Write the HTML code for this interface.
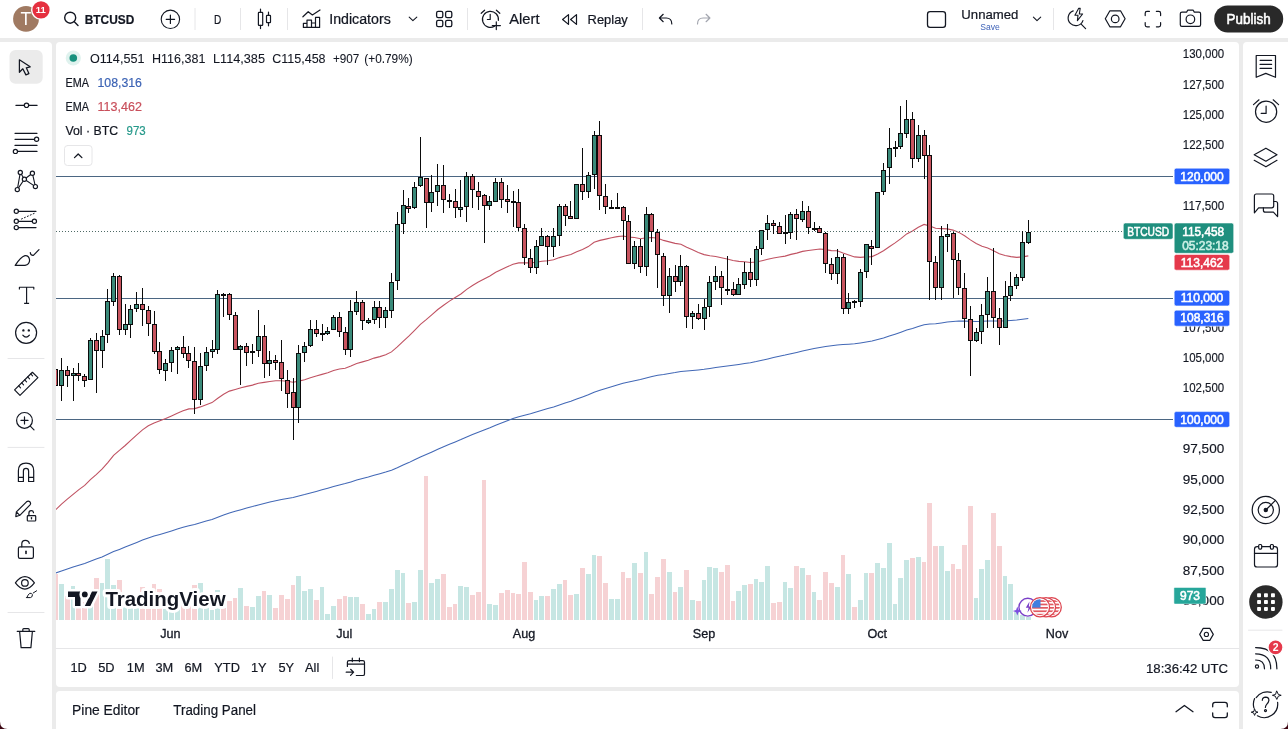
<!DOCTYPE html>
<html><head><meta charset="utf-8"><title>BTCUSD</title>
<style>
html,body{margin:0;padding:0;width:1288px;height:729px;overflow:hidden;background:#ebebeb;}
.abs{position:absolute;}
svg text{font-family:"Liberation Sans",Arial,sans-serif;}
</style></head>
<body>
<div class="abs" style="left:0;top:0;width:1288px;height:38px;background:#fff"></div>
<div class="abs" style="left:0;top:42px;width:52px;height:687px;background:#fff;border-top-right-radius:4px"></div>
<div class="abs" style="left:56px;top:42px;width:1183px;height:645px;background:#fff;border-radius:4px"></div>
<div class="abs" style="left:1243px;top:42px;width:45px;height:687px;background:#fff;border-top-left-radius:4px"></div>
<div class="abs" style="left:56px;top:691px;width:1183px;height:38px;background:#fff;border-radius:4px 4px 0 0"></div>
<svg class="abs" style="left:0;top:0" width="1288" height="729" viewBox="0 0 1288 729">
<defs><clipPath id="cp"><rect x="56" y="42" width="1117" height="578"/></clipPath></defs>
<g clip-path="url(#cp)" shape-rendering="crispEdges">
<rect x="56" y="176" width="1117" height="1" fill="#4b6682"/>
<rect x="56" y="298" width="1117" height="1" fill="#4b6682"/>
<rect x="56" y="419" width="1117" height="1" fill="#4b6682"/>
<rect x="53" y="574" width="5" height="46" fill="#f6d2d4"/>
<rect x="59" y="584" width="5" height="36" fill="#c6e6e3"/>
<rect x="65" y="596" width="5" height="24" fill="#f6d2d4"/>
<rect x="71" y="586" width="4" height="34" fill="#c6e6e3"/>
<rect x="76" y="600" width="5" height="20" fill="#f6d2d4"/>
<rect x="82" y="602" width="5" height="18" fill="#f6d2d4"/>
<rect x="88" y="598" width="5" height="22" fill="#c6e6e3"/>
<rect x="94" y="578" width="5" height="42" fill="#f6d2d4"/>
<rect x="100" y="583" width="4" height="37" fill="#c6e6e3"/>
<rect x="105" y="559" width="5" height="61" fill="#c6e6e3"/>
<rect x="111" y="585" width="5" height="35" fill="#c6e6e3"/>
<rect x="117" y="580" width="5" height="40" fill="#f6d2d4"/>
<rect x="123" y="600" width="4" height="20" fill="#c6e6e3"/>
<rect x="128" y="598" width="5" height="22" fill="#c6e6e3"/>
<rect x="134" y="600" width="5" height="20" fill="#c6e6e3"/>
<rect x="140" y="587" width="5" height="33" fill="#f6d2d4"/>
<rect x="146" y="600" width="5" height="20" fill="#f6d2d4"/>
<rect x="152" y="584" width="4" height="36" fill="#f6d2d4"/>
<rect x="157" y="589" width="5" height="31" fill="#f6d2d4"/>
<rect x="163" y="598" width="5" height="22" fill="#c6e6e3"/>
<rect x="169" y="600" width="5" height="20" fill="#c6e6e3"/>
<rect x="175" y="600" width="5" height="20" fill="#c6e6e3"/>
<rect x="181" y="598" width="4" height="22" fill="#f6d2d4"/>
<rect x="186" y="600" width="5" height="20" fill="#f6d2d4"/>
<rect x="192" y="585" width="5" height="35" fill="#f6d2d4"/>
<rect x="198" y="583" width="5" height="37" fill="#c6e6e3"/>
<rect x="204" y="598" width="5" height="22" fill="#c6e6e3"/>
<rect x="210" y="610" width="4" height="10" fill="#c6e6e3"/>
<rect x="215" y="590" width="5" height="30" fill="#c6e6e3"/>
<rect x="221" y="608" width="5" height="12" fill="#f6d2d4"/>
<rect x="227" y="601" width="5" height="19" fill="#f6d2d4"/>
<rect x="233" y="598" width="4" height="22" fill="#f6d2d4"/>
<rect x="238" y="588" width="5" height="32" fill="#c6e6e3"/>
<rect x="244" y="606" width="5" height="14" fill="#f6d2d4"/>
<rect x="250" y="607" width="5" height="13" fill="#c6e6e3"/>
<rect x="256" y="596" width="5" height="24" fill="#c6e6e3"/>
<rect x="262" y="591" width="4" height="29" fill="#f6d2d4"/>
<rect x="267" y="595" width="5" height="25" fill="#c6e6e3"/>
<rect x="273" y="608" width="5" height="12" fill="#f6d2d4"/>
<rect x="279" y="595" width="5" height="25" fill="#f6d2d4"/>
<rect x="285" y="599" width="5" height="21" fill="#f6d2d4"/>
<rect x="291" y="585" width="4" height="35" fill="#f6d2d4"/>
<rect x="296" y="576" width="5" height="44" fill="#c6e6e3"/>
<rect x="302" y="591" width="5" height="29" fill="#c6e6e3"/>
<rect x="308" y="589" width="5" height="31" fill="#c6e6e3"/>
<rect x="314" y="600" width="5" height="20" fill="#f6d2d4"/>
<rect x="320" y="587" width="4" height="33" fill="#c6e6e3"/>
<rect x="325" y="614" width="5" height="6" fill="#c6e6e3"/>
<rect x="331" y="606" width="5" height="14" fill="#c6e6e3"/>
<rect x="337" y="599" width="5" height="21" fill="#f6d2d4"/>
<rect x="343" y="596" width="4" height="24" fill="#f6d2d4"/>
<rect x="348" y="597" width="5" height="23" fill="#c6e6e3"/>
<rect x="354" y="597" width="5" height="23" fill="#c6e6e3"/>
<rect x="360" y="604" width="5" height="16" fill="#f6d2d4"/>
<rect x="366" y="614" width="5" height="6" fill="#c6e6e3"/>
<rect x="372" y="609" width="4" height="11" fill="#c6e6e3"/>
<rect x="377" y="602" width="5" height="18" fill="#f6d2d4"/>
<rect x="383" y="602" width="5" height="18" fill="#c6e6e3"/>
<rect x="389" y="589" width="5" height="31" fill="#c6e6e3"/>
<rect x="395" y="570" width="5" height="50" fill="#c6e6e3"/>
<rect x="401" y="573" width="4" height="47" fill="#c6e6e3"/>
<rect x="406" y="603" width="5" height="17" fill="#f6d2d4"/>
<rect x="412" y="602" width="5" height="18" fill="#c6e6e3"/>
<rect x="418" y="570" width="5" height="50" fill="#c6e6e3"/>
<rect x="424" y="476" width="4" height="144" fill="#f6d2d4"/>
<rect x="429" y="583" width="5" height="37" fill="#c6e6e3"/>
<rect x="435" y="579" width="5" height="41" fill="#c6e6e3"/>
<rect x="441" y="574" width="5" height="46" fill="#f6d2d4"/>
<rect x="447" y="607" width="5" height="13" fill="#f6d2d4"/>
<rect x="453" y="604" width="4" height="16" fill="#f6d2d4"/>
<rect x="458" y="586" width="5" height="34" fill="#c6e6e3"/>
<rect x="464" y="587" width="5" height="33" fill="#c6e6e3"/>
<rect x="470" y="595" width="5" height="25" fill="#f6d2d4"/>
<rect x="476" y="592" width="5" height="28" fill="#f6d2d4"/>
<rect x="482" y="480" width="4" height="140" fill="#f6d2d4"/>
<rect x="487" y="604" width="5" height="16" fill="#c6e6e3"/>
<rect x="493" y="605" width="5" height="15" fill="#c6e6e3"/>
<rect x="499" y="593" width="5" height="27" fill="#f6d2d4"/>
<rect x="505" y="590" width="5" height="30" fill="#f6d2d4"/>
<rect x="511" y="593" width="4" height="27" fill="#f6d2d4"/>
<rect x="516" y="594" width="5" height="26" fill="#f6d2d4"/>
<rect x="522" y="562" width="5" height="58" fill="#f6d2d4"/>
<rect x="528" y="592" width="5" height="28" fill="#f6d2d4"/>
<rect x="534" y="600" width="4" height="20" fill="#c6e6e3"/>
<rect x="539" y="596" width="5" height="24" fill="#c6e6e3"/>
<rect x="545" y="596" width="5" height="24" fill="#f6d2d4"/>
<rect x="551" y="589" width="5" height="31" fill="#c6e6e3"/>
<rect x="557" y="584" width="5" height="36" fill="#c6e6e3"/>
<rect x="563" y="580" width="4" height="40" fill="#f6d2d4"/>
<rect x="568" y="595" width="5" height="25" fill="#f6d2d4"/>
<rect x="574" y="594" width="5" height="26" fill="#c6e6e3"/>
<rect x="580" y="568" width="5" height="52" fill="#f6d2d4"/>
<rect x="586" y="574" width="5" height="46" fill="#c6e6e3"/>
<rect x="592" y="555" width="4" height="65" fill="#c6e6e3"/>
<rect x="597" y="556" width="5" height="64" fill="#f6d2d4"/>
<rect x="603" y="583" width="5" height="37" fill="#f6d2d4"/>
<rect x="609" y="599" width="5" height="21" fill="#c6e6e3"/>
<rect x="615" y="599" width="5" height="21" fill="#c6e6e3"/>
<rect x="621" y="572" width="4" height="48" fill="#f6d2d4"/>
<rect x="626" y="578" width="5" height="42" fill="#f6d2d4"/>
<rect x="632" y="563" width="5" height="57" fill="#c6e6e3"/>
<rect x="638" y="573" width="5" height="47" fill="#f6d2d4"/>
<rect x="644" y="552" width="4" height="68" fill="#c6e6e3"/>
<rect x="649" y="594" width="5" height="26" fill="#f6d2d4"/>
<rect x="655" y="577" width="5" height="43" fill="#f6d2d4"/>
<rect x="661" y="559" width="5" height="61" fill="#f6d2d4"/>
<rect x="667" y="572" width="5" height="48" fill="#c6e6e3"/>
<rect x="673" y="592" width="4" height="28" fill="#f6d2d4"/>
<rect x="678" y="587" width="5" height="33" fill="#c6e6e3"/>
<rect x="684" y="570" width="5" height="50" fill="#f6d2d4"/>
<rect x="690" y="600" width="5" height="20" fill="#c6e6e3"/>
<rect x="696" y="601" width="5" height="19" fill="#f6d2d4"/>
<rect x="702" y="580" width="4" height="40" fill="#c6e6e3"/>
<rect x="707" y="567" width="5" height="53" fill="#c6e6e3"/>
<rect x="713" y="568" width="5" height="52" fill="#c6e6e3"/>
<rect x="719" y="572" width="5" height="48" fill="#f6d2d4"/>
<rect x="725" y="565" width="5" height="55" fill="#f6d2d4"/>
<rect x="731" y="601" width="4" height="19" fill="#f6d2d4"/>
<rect x="736" y="591" width="5" height="29" fill="#c6e6e3"/>
<rect x="742" y="585" width="5" height="35" fill="#c6e6e3"/>
<rect x="748" y="584" width="5" height="36" fill="#f6d2d4"/>
<rect x="754" y="579" width="4" height="41" fill="#c6e6e3"/>
<rect x="759" y="582" width="5" height="38" fill="#c6e6e3"/>
<rect x="765" y="566" width="5" height="54" fill="#c6e6e3"/>
<rect x="771" y="603" width="5" height="17" fill="#f6d2d4"/>
<rect x="777" y="602" width="5" height="18" fill="#f6d2d4"/>
<rect x="783" y="582" width="4" height="38" fill="#c6e6e3"/>
<rect x="788" y="588" width="5" height="32" fill="#c6e6e3"/>
<rect x="794" y="566" width="5" height="54" fill="#f6d2d4"/>
<rect x="800" y="568" width="5" height="52" fill="#c6e6e3"/>
<rect x="806" y="575" width="5" height="45" fill="#f6d2d4"/>
<rect x="812" y="592" width="4" height="28" fill="#c6e6e3"/>
<rect x="817" y="600" width="5" height="20" fill="#f6d2d4"/>
<rect x="823" y="572" width="5" height="48" fill="#f6d2d4"/>
<rect x="829" y="583" width="5" height="37" fill="#f6d2d4"/>
<rect x="835" y="587" width="5" height="33" fill="#c6e6e3"/>
<rect x="841" y="555" width="4" height="65" fill="#f6d2d4"/>
<rect x="846" y="574" width="5" height="46" fill="#c6e6e3"/>
<rect x="852" y="607" width="5" height="13" fill="#f6d2d4"/>
<rect x="858" y="600" width="5" height="20" fill="#c6e6e3"/>
<rect x="864" y="573" width="4" height="47" fill="#c6e6e3"/>
<rect x="869" y="573" width="5" height="47" fill="#f6d2d4"/>
<rect x="875" y="563" width="5" height="57" fill="#c6e6e3"/>
<rect x="881" y="568" width="5" height="52" fill="#c6e6e3"/>
<rect x="887" y="543" width="5" height="77" fill="#c6e6e3"/>
<rect x="893" y="604" width="4" height="16" fill="#c6e6e3"/>
<rect x="898" y="578" width="5" height="42" fill="#c6e6e3"/>
<rect x="904" y="560" width="5" height="60" fill="#c6e6e3"/>
<rect x="910" y="558" width="5" height="62" fill="#f6d2d4"/>
<rect x="916" y="557" width="5" height="63" fill="#c6e6e3"/>
<rect x="922" y="562" width="4" height="58" fill="#f6d2d4"/>
<rect x="927" y="503" width="5" height="117" fill="#f6d2d4"/>
<rect x="933" y="546" width="5" height="74" fill="#f6d2d4"/>
<rect x="939" y="546" width="5" height="74" fill="#c6e6e3"/>
<rect x="945" y="571" width="5" height="49" fill="#c6e6e3"/>
<rect x="951" y="564" width="4" height="56" fill="#f6d2d4"/>
<rect x="956" y="569" width="5" height="51" fill="#f6d2d4"/>
<rect x="962" y="545" width="5" height="75" fill="#f6d2d4"/>
<rect x="968" y="506" width="5" height="114" fill="#f6d2d4"/>
<rect x="974" y="598" width="4" height="22" fill="#c6e6e3"/>
<rect x="979" y="569" width="5" height="51" fill="#c6e6e3"/>
<rect x="985" y="560" width="5" height="60" fill="#c6e6e3"/>
<rect x="991" y="513" width="5" height="107" fill="#f6d2d4"/>
<rect x="997" y="546" width="5" height="74" fill="#f6d2d4"/>
<rect x="1003" y="576" width="4" height="44" fill="#c6e6e3"/>
<rect x="1008" y="584" width="5" height="36" fill="#c6e6e3"/>
<rect x="1014" y="612" width="5" height="8" fill="#c6e6e3"/>
<rect x="1020" y="615" width="5" height="5" fill="#c6e6e3"/>
<rect x="1026" y="617" width="5" height="3" fill="#c6e6e3"/>
<polyline shape-rendering="geometricPrecision" points="49.9,574.9 55.7,573.0 61.5,571.0 67.3,569.1 73.1,567.1 78.9,565.2 84.7,563.4 90.4,561.2 96.2,559.1 102.0,556.9 107.8,554.3 113.6,551.6 119.4,549.4 125.2,547.1 131.0,544.7 136.8,542.4 142.5,540.0 148.3,537.9 154.1,536.0 159.9,534.4 165.7,532.7 171.5,530.9 177.3,529.1 183.1,527.3 188.9,525.7 194.6,524.4 200.4,522.8 206.2,521.1 212.0,519.4 217.8,517.2 223.6,515.0 229.4,513.0 235.2,511.3 241.0,509.7 246.7,508.1 252.5,506.6 258.3,504.9 264.1,503.5 269.9,502.1 275.7,500.7 281.5,499.5 287.3,498.4 293.1,497.5 298.8,496.1 304.6,494.6 310.4,492.9 316.2,491.4 322.0,489.8 327.8,488.2 333.6,486.5 339.4,485.0 345.2,483.6 350.9,481.9 356.7,480.1 362.5,478.5 368.3,477.0 374.1,475.3 379.9,473.7 385.7,472.1 391.5,470.2 397.3,467.8 403.1,465.1 408.8,462.6 414.6,459.8 420.4,457.0 426.2,454.5 432.0,451.9 437.8,449.2 443.6,446.8 449.4,444.3 455.2,442.0 460.9,439.6 466.7,437.0 472.5,434.6 478.3,432.2 484.1,430.0 489.9,427.7 495.7,425.2 501.5,423.0 507.3,420.8 513.0,418.6 518.8,416.7 524.6,415.2 530.4,413.7 536.2,412.0 542.0,410.3 547.8,408.6 553.6,406.9 559.4,404.9 565.1,403.1 570.9,401.2 576.7,399.1 582.5,397.0 588.3,394.8 594.1,392.2 599.9,390.3 605.7,388.5 611.5,386.7 617.2,384.9 623.0,383.2 628.8,382.0 634.6,380.7 640.4,379.6 646.2,377.9 652.0,376.5 657.8,375.3 663.6,374.5 669.3,373.5 675.1,372.6 680.9,371.5 686.7,371.0 692.5,370.4 698.3,369.9 704.1,369.3 709.9,368.4 715.7,367.5 721.4,366.7 727.2,365.9 733.0,365.2 738.8,364.4 744.6,363.5 750.4,362.7 756.2,361.6 762.0,360.3 767.8,358.9 773.5,357.6 779.3,356.3 785.1,355.1 790.9,353.7 796.7,352.4 802.5,351.0 808.3,349.7 814.1,348.5 819.9,347.4 825.6,346.6 831.4,345.8 837.2,345.0 843.0,344.6 848.8,344.2 854.6,343.8 860.4,343.0 866.2,342.1 872.0,341.1 877.7,339.6 883.5,338.0 889.3,336.1 895.1,334.2 900.9,332.2 906.7,330.1 912.5,328.4 918.3,326.5 924.1,324.8 929.8,324.1 935.6,323.8 941.4,322.9 947.2,322.0 953.0,321.4 958.8,321.1 964.6,321.1 970.4,321.3 976.2,321.4 982.0,321.3 987.7,321.0 993.5,321.0 999.3,321.0 1005.1,320.8 1010.9,320.4 1016.7,320.0 1022.5,319.2 1028.3,318.4" fill="none" stroke="#4268b6" stroke-width="1.05"/>
<polyline shape-rendering="geometricPrecision" points="49.9,514.8 55.7,509.7 61.5,504.2 67.3,499.2 73.1,494.3 78.9,489.6 84.7,485.4 90.4,479.7 96.2,474.7 102.0,469.2 107.8,462.6 113.6,455.3 119.4,450.4 125.2,445.5 131.0,440.1 136.8,434.8 142.5,429.9 148.3,425.8 154.1,422.9 159.9,420.8 165.7,418.6 171.5,415.9 177.3,413.2 183.1,410.8 188.9,408.9 194.6,408.6 200.4,406.9 206.2,404.8 212.0,402.6 217.8,398.3 223.6,394.3 229.4,391.1 235.2,389.5 241.0,387.8 246.7,386.4 252.5,385.1 258.3,383.2 264.1,382.4 269.9,381.5 275.7,380.8 281.5,380.7 287.3,381.2 293.1,382.3 298.8,381.1 304.6,379.7 310.4,377.8 316.2,376.0 322.0,374.4 327.8,372.7 333.6,370.5 339.4,369.0 345.2,368.3 350.9,366.1 356.7,363.5 362.5,361.9 368.3,360.2 374.1,358.1 379.9,356.6 385.7,354.8 391.5,351.9 397.3,346.9 403.1,341.4 408.8,336.1 414.6,330.3 420.4,324.3 426.2,319.6 432.0,314.6 437.8,309.5 443.6,305.2 449.4,301.1 455.2,297.5 460.9,294.0 466.7,289.4 472.5,285.5 478.3,282.0 484.1,279.0 489.9,276.0 495.7,272.3 501.5,269.5 507.3,266.8 513.0,264.3 518.8,262.9 524.6,262.7 530.4,262.9 536.2,262.2 542.0,261.2 547.8,260.7 553.6,259.7 559.4,257.6 565.1,256.0 570.9,254.6 576.7,251.8 582.5,249.5 588.3,246.6 594.1,242.2 599.9,240.4 605.7,239.1 611.5,237.8 617.2,236.6 623.0,236.0 628.8,237.1 634.6,237.5 640.4,238.7 646.2,237.7 652.0,237.5 657.8,238.2 663.6,240.4 669.3,241.9 675.1,243.4 680.9,244.3 686.7,247.2 692.5,249.8 698.3,252.5 704.1,254.6 709.9,255.7 715.7,256.5 721.4,257.8 727.2,259.0 733.0,260.5 738.8,261.4 744.6,261.8 750.4,262.5 756.2,262.0 762.0,260.7 767.8,259.3 773.5,258.0 779.3,257.0 785.1,256.1 790.9,254.4 796.7,253.1 802.5,251.4 808.3,250.5 814.1,249.7 819.9,249.0 825.6,249.6 831.4,250.6 837.2,250.8 843.0,253.1 848.8,255.0 854.6,256.9 860.4,257.4 866.2,256.9 872.0,256.6 877.7,254.1 883.5,250.8 889.3,246.7 895.1,242.9 900.9,238.6 906.7,233.9 912.5,231.0 918.3,227.2 924.1,224.4 929.8,225.9 935.6,228.3 941.4,228.6 947.2,228.9 953.0,230.1 958.8,232.4 964.6,235.8 970.4,239.9 976.2,243.5 982.0,246.3 987.7,248.0 993.5,250.8 999.3,253.8 1005.1,255.5 1010.9,256.6 1016.7,257.4 1022.5,256.9 1028.3,255.9" fill="none" stroke="#c05262" stroke-width="1.1"/>
<line x1="56" y1="231.5" x2="1173" y2="231.5" stroke="#4f6a66" stroke-width="1" stroke-dasharray="1 2"/>
<rect x="55" y="365" width="1" height="25" fill="#0b0b0b"/>
<rect x="53" y="369" width="5" height="17" fill="#0b0b0b"/>
<rect x="54" y="370" width="3" height="15" fill="#c8545f"/>
<rect x="61" y="358" width="1" height="43" fill="#0b0b0b"/>
<rect x="59" y="370" width="5" height="16" fill="#0b0b0b"/>
<rect x="60" y="371" width="3" height="14" fill="#3a8a7a"/>
<rect x="67" y="366" width="1" height="21" fill="#0b0b0b"/>
<rect x="65" y="370" width="5" height="6" fill="#0b0b0b"/>
<rect x="66" y="371" width="3" height="4" fill="#c8545f"/>
<rect x="73" y="368" width="1" height="33" fill="#0b0b0b"/>
<rect x="71" y="373" width="5" height="3" fill="#0b0b0b"/>
<rect x="72" y="374" width="3" height="1" fill="#3a8a7a"/>
<rect x="78" y="363" width="1" height="18" fill="#0b0b0b"/>
<rect x="76" y="373" width="5" height="3" fill="#0b0b0b"/>
<rect x="77" y="374" width="3" height="1" fill="#c8545f"/>
<rect x="84" y="374" width="1" height="13" fill="#0b0b0b"/>
<rect x="82" y="376" width="5" height="5" fill="#0b0b0b"/>
<rect x="83" y="377" width="3" height="3" fill="#c8545f"/>
<rect x="90" y="338" width="1" height="42" fill="#0b0b0b"/>
<rect x="88" y="340" width="5" height="40" fill="#0b0b0b"/>
<rect x="89" y="341" width="3" height="38" fill="#3a8a7a"/>
<rect x="96" y="333" width="1" height="60" fill="#0b0b0b"/>
<rect x="94" y="340" width="5" height="11" fill="#0b0b0b"/>
<rect x="95" y="341" width="3" height="9" fill="#c8545f"/>
<rect x="102" y="330" width="1" height="38" fill="#0b0b0b"/>
<rect x="100" y="336" width="5" height="15" fill="#0b0b0b"/>
<rect x="101" y="337" width="3" height="13" fill="#3a8a7a"/>
<rect x="107" y="289" width="1" height="54" fill="#0b0b0b"/>
<rect x="105" y="301" width="5" height="34" fill="#0b0b0b"/>
<rect x="106" y="302" width="3" height="32" fill="#3a8a7a"/>
<rect x="113" y="273" width="1" height="33" fill="#0b0b0b"/>
<rect x="111" y="276" width="5" height="26" fill="#0b0b0b"/>
<rect x="112" y="277" width="3" height="24" fill="#3a8a7a"/>
<rect x="119" y="275" width="1" height="60" fill="#0b0b0b"/>
<rect x="117" y="276" width="5" height="54" fill="#0b0b0b"/>
<rect x="118" y="277" width="3" height="52" fill="#c8545f"/>
<rect x="125" y="304" width="1" height="31" fill="#0b0b0b"/>
<rect x="123" y="324" width="5" height="6" fill="#0b0b0b"/>
<rect x="124" y="325" width="3" height="4" fill="#3a8a7a"/>
<rect x="130" y="305" width="1" height="33" fill="#0b0b0b"/>
<rect x="128" y="309" width="5" height="16" fill="#0b0b0b"/>
<rect x="129" y="310" width="3" height="14" fill="#3a8a7a"/>
<rect x="136" y="292" width="1" height="20" fill="#0b0b0b"/>
<rect x="134" y="304" width="5" height="5" fill="#0b0b0b"/>
<rect x="135" y="305" width="3" height="3" fill="#3a8a7a"/>
<rect x="142" y="288" width="1" height="38" fill="#0b0b0b"/>
<rect x="140" y="304" width="5" height="6" fill="#0b0b0b"/>
<rect x="141" y="305" width="3" height="4" fill="#c8545f"/>
<rect x="148" y="306" width="1" height="30" fill="#0b0b0b"/>
<rect x="146" y="310" width="5" height="14" fill="#0b0b0b"/>
<rect x="147" y="311" width="3" height="12" fill="#c8545f"/>
<rect x="154" y="311" width="1" height="43" fill="#0b0b0b"/>
<rect x="152" y="324" width="5" height="28" fill="#0b0b0b"/>
<rect x="153" y="325" width="3" height="26" fill="#c8545f"/>
<rect x="159" y="342" width="1" height="32" fill="#0b0b0b"/>
<rect x="157" y="351" width="5" height="19" fill="#0b0b0b"/>
<rect x="158" y="352" width="3" height="17" fill="#c8545f"/>
<rect x="165" y="359" width="1" height="22" fill="#0b0b0b"/>
<rect x="163" y="363" width="5" height="8" fill="#0b0b0b"/>
<rect x="164" y="364" width="3" height="6" fill="#3a8a7a"/>
<rect x="171" y="347" width="1" height="25" fill="#0b0b0b"/>
<rect x="169" y="350" width="5" height="13" fill="#0b0b0b"/>
<rect x="170" y="351" width="3" height="11" fill="#3a8a7a"/>
<rect x="177" y="346" width="1" height="28" fill="#0b0b0b"/>
<rect x="175" y="347" width="5" height="3" fill="#0b0b0b"/>
<rect x="176" y="348" width="3" height="1" fill="#3a8a7a"/>
<rect x="183" y="336" width="1" height="22" fill="#0b0b0b"/>
<rect x="181" y="347" width="5" height="7" fill="#0b0b0b"/>
<rect x="182" y="348" width="3" height="5" fill="#c8545f"/>
<rect x="188" y="346" width="1" height="22" fill="#0b0b0b"/>
<rect x="186" y="353" width="5" height="8" fill="#0b0b0b"/>
<rect x="187" y="354" width="3" height="6" fill="#c8545f"/>
<rect x="194" y="347" width="1" height="67" fill="#0b0b0b"/>
<rect x="192" y="361" width="5" height="39" fill="#0b0b0b"/>
<rect x="193" y="362" width="3" height="37" fill="#c8545f"/>
<rect x="200" y="353" width="1" height="52" fill="#0b0b0b"/>
<rect x="198" y="366" width="5" height="34" fill="#0b0b0b"/>
<rect x="199" y="367" width="3" height="32" fill="#3a8a7a"/>
<rect x="206" y="347" width="1" height="24" fill="#0b0b0b"/>
<rect x="204" y="352" width="5" height="14" fill="#0b0b0b"/>
<rect x="205" y="353" width="3" height="12" fill="#3a8a7a"/>
<rect x="212" y="340" width="1" height="18" fill="#0b0b0b"/>
<rect x="210" y="349" width="5" height="3" fill="#0b0b0b"/>
<rect x="211" y="350" width="3" height="1" fill="#3a8a7a"/>
<rect x="217" y="290" width="1" height="64" fill="#0b0b0b"/>
<rect x="215" y="294" width="5" height="56" fill="#0b0b0b"/>
<rect x="216" y="295" width="3" height="54" fill="#3a8a7a"/>
<rect x="223" y="293" width="1" height="24" fill="#0b0b0b"/>
<rect x="221" y="294" width="5" height="2" fill="#0b0b0b"/>
<rect x="229" y="293" width="1" height="27" fill="#0b0b0b"/>
<rect x="227" y="294" width="5" height="21" fill="#0b0b0b"/>
<rect x="228" y="295" width="3" height="19" fill="#c8545f"/>
<rect x="235" y="312" width="1" height="38" fill="#0b0b0b"/>
<rect x="233" y="315" width="5" height="35" fill="#0b0b0b"/>
<rect x="234" y="316" width="3" height="33" fill="#c8545f"/>
<rect x="240" y="345" width="1" height="40" fill="#0b0b0b"/>
<rect x="238" y="346" width="5" height="4" fill="#0b0b0b"/>
<rect x="239" y="347" width="3" height="2" fill="#3a8a7a"/>
<rect x="246" y="343" width="1" height="23" fill="#0b0b0b"/>
<rect x="244" y="346" width="5" height="7" fill="#0b0b0b"/>
<rect x="245" y="347" width="3" height="5" fill="#c8545f"/>
<rect x="252" y="344" width="1" height="20" fill="#0b0b0b"/>
<rect x="250" y="351" width="5" height="2" fill="#0b0b0b"/>
<rect x="258" y="310" width="1" height="47" fill="#0b0b0b"/>
<rect x="256" y="336" width="5" height="15" fill="#0b0b0b"/>
<rect x="257" y="337" width="3" height="13" fill="#3a8a7a"/>
<rect x="264" y="325" width="1" height="53" fill="#0b0b0b"/>
<rect x="262" y="336" width="5" height="28" fill="#0b0b0b"/>
<rect x="263" y="337" width="3" height="26" fill="#c8545f"/>
<rect x="269" y="351" width="1" height="25" fill="#0b0b0b"/>
<rect x="267" y="360" width="5" height="4" fill="#0b0b0b"/>
<rect x="268" y="361" width="3" height="2" fill="#3a8a7a"/>
<rect x="275" y="355" width="1" height="15" fill="#0b0b0b"/>
<rect x="273" y="360" width="5" height="3" fill="#0b0b0b"/>
<rect x="274" y="361" width="3" height="1" fill="#c8545f"/>
<rect x="281" y="340" width="1" height="51" fill="#0b0b0b"/>
<rect x="279" y="362" width="5" height="17" fill="#0b0b0b"/>
<rect x="280" y="363" width="3" height="15" fill="#c8545f"/>
<rect x="287" y="370" width="1" height="38" fill="#0b0b0b"/>
<rect x="285" y="380" width="5" height="14" fill="#0b0b0b"/>
<rect x="286" y="381" width="3" height="12" fill="#c8545f"/>
<rect x="293" y="378" width="1" height="62" fill="#0b0b0b"/>
<rect x="291" y="392" width="5" height="16" fill="#0b0b0b"/>
<rect x="292" y="393" width="3" height="14" fill="#c8545f"/>
<rect x="298" y="345" width="1" height="78" fill="#0b0b0b"/>
<rect x="296" y="353" width="5" height="55" fill="#0b0b0b"/>
<rect x="297" y="354" width="3" height="53" fill="#3a8a7a"/>
<rect x="304" y="342" width="1" height="20" fill="#0b0b0b"/>
<rect x="302" y="346" width="5" height="7" fill="#0b0b0b"/>
<rect x="303" y="347" width="3" height="5" fill="#3a8a7a"/>
<rect x="310" y="320" width="1" height="27" fill="#0b0b0b"/>
<rect x="308" y="329" width="5" height="17" fill="#0b0b0b"/>
<rect x="309" y="330" width="3" height="15" fill="#3a8a7a"/>
<rect x="316" y="320" width="1" height="17" fill="#0b0b0b"/>
<rect x="314" y="329" width="5" height="5" fill="#0b0b0b"/>
<rect x="315" y="330" width="3" height="3" fill="#c8545f"/>
<rect x="322" y="324" width="1" height="17" fill="#0b0b0b"/>
<rect x="320" y="333" width="5" height="2" fill="#0b0b0b"/>
<rect x="327" y="327" width="1" height="8" fill="#0b0b0b"/>
<rect x="325" y="331" width="5" height="3" fill="#0b0b0b"/>
<rect x="326" y="332" width="3" height="1" fill="#3a8a7a"/>
<rect x="333" y="315" width="1" height="15" fill="#0b0b0b"/>
<rect x="331" y="317" width="5" height="13" fill="#0b0b0b"/>
<rect x="332" y="318" width="3" height="11" fill="#3a8a7a"/>
<rect x="339" y="312" width="1" height="25" fill="#0b0b0b"/>
<rect x="337" y="317" width="5" height="15" fill="#0b0b0b"/>
<rect x="338" y="318" width="3" height="13" fill="#c8545f"/>
<rect x="345" y="327" width="1" height="28" fill="#0b0b0b"/>
<rect x="343" y="332" width="5" height="18" fill="#0b0b0b"/>
<rect x="344" y="333" width="3" height="16" fill="#c8545f"/>
<rect x="350" y="300" width="1" height="57" fill="#0b0b0b"/>
<rect x="348" y="311" width="5" height="39" fill="#0b0b0b"/>
<rect x="349" y="312" width="3" height="37" fill="#3a8a7a"/>
<rect x="356" y="291" width="1" height="24" fill="#0b0b0b"/>
<rect x="354" y="302" width="5" height="10" fill="#0b0b0b"/>
<rect x="355" y="303" width="3" height="8" fill="#3a8a7a"/>
<rect x="362" y="300" width="1" height="30" fill="#0b0b0b"/>
<rect x="360" y="302" width="5" height="19" fill="#0b0b0b"/>
<rect x="361" y="303" width="3" height="17" fill="#c8545f"/>
<rect x="368" y="318" width="1" height="6" fill="#0b0b0b"/>
<rect x="366" y="320" width="5" height="3" fill="#0b0b0b"/>
<rect x="367" y="321" width="3" height="1" fill="#3a8a7a"/>
<rect x="374" y="301" width="1" height="23" fill="#0b0b0b"/>
<rect x="372" y="307" width="5" height="13" fill="#0b0b0b"/>
<rect x="373" y="308" width="3" height="11" fill="#3a8a7a"/>
<rect x="379" y="301" width="1" height="27" fill="#0b0b0b"/>
<rect x="377" y="307" width="5" height="11" fill="#0b0b0b"/>
<rect x="378" y="308" width="3" height="9" fill="#c8545f"/>
<rect x="385" y="307" width="1" height="21" fill="#0b0b0b"/>
<rect x="383" y="310" width="5" height="8" fill="#0b0b0b"/>
<rect x="384" y="311" width="3" height="6" fill="#3a8a7a"/>
<rect x="391" y="273" width="1" height="45" fill="#0b0b0b"/>
<rect x="389" y="282" width="5" height="29" fill="#0b0b0b"/>
<rect x="390" y="283" width="3" height="27" fill="#3a8a7a"/>
<rect x="397" y="212" width="1" height="78" fill="#0b0b0b"/>
<rect x="395" y="224" width="5" height="57" fill="#0b0b0b"/>
<rect x="396" y="225" width="3" height="55" fill="#3a8a7a"/>
<rect x="403" y="190" width="1" height="44" fill="#0b0b0b"/>
<rect x="401" y="205" width="5" height="19" fill="#0b0b0b"/>
<rect x="402" y="206" width="3" height="17" fill="#3a8a7a"/>
<rect x="408" y="198" width="1" height="15" fill="#0b0b0b"/>
<rect x="406" y="206" width="5" height="3" fill="#0b0b0b"/>
<rect x="407" y="207" width="3" height="1" fill="#c8545f"/>
<rect x="414" y="182" width="1" height="27" fill="#0b0b0b"/>
<rect x="412" y="187" width="5" height="21" fill="#0b0b0b"/>
<rect x="413" y="188" width="3" height="19" fill="#3a8a7a"/>
<rect x="420" y="137" width="1" height="50" fill="#0b0b0b"/>
<rect x="418" y="177" width="5" height="9" fill="#0b0b0b"/>
<rect x="419" y="178" width="3" height="7" fill="#3a8a7a"/>
<rect x="426" y="178" width="1" height="50" fill="#0b0b0b"/>
<rect x="424" y="178" width="5" height="25" fill="#0b0b0b"/>
<rect x="425" y="179" width="3" height="23" fill="#c8545f"/>
<rect x="431" y="175" width="1" height="37" fill="#0b0b0b"/>
<rect x="429" y="192" width="5" height="11" fill="#0b0b0b"/>
<rect x="430" y="193" width="3" height="9" fill="#3a8a7a"/>
<rect x="437" y="164" width="1" height="42" fill="#0b0b0b"/>
<rect x="435" y="185" width="5" height="7" fill="#0b0b0b"/>
<rect x="436" y="186" width="3" height="5" fill="#3a8a7a"/>
<rect x="443" y="165" width="1" height="48" fill="#0b0b0b"/>
<rect x="441" y="185" width="5" height="15" fill="#0b0b0b"/>
<rect x="442" y="186" width="3" height="13" fill="#c8545f"/>
<rect x="449" y="194" width="1" height="14" fill="#0b0b0b"/>
<rect x="447" y="200" width="5" height="2" fill="#0b0b0b"/>
<rect x="455" y="189" width="1" height="29" fill="#0b0b0b"/>
<rect x="453" y="201" width="5" height="7" fill="#0b0b0b"/>
<rect x="454" y="202" width="3" height="5" fill="#c8545f"/>
<rect x="460" y="180" width="1" height="37" fill="#0b0b0b"/>
<rect x="458" y="207" width="5" height="3" fill="#0b0b0b"/>
<rect x="459" y="208" width="3" height="1" fill="#3a8a7a"/>
<rect x="466" y="172" width="1" height="50" fill="#0b0b0b"/>
<rect x="464" y="176" width="5" height="31" fill="#0b0b0b"/>
<rect x="465" y="177" width="3" height="29" fill="#3a8a7a"/>
<rect x="472" y="174" width="1" height="34" fill="#0b0b0b"/>
<rect x="470" y="176" width="5" height="14" fill="#0b0b0b"/>
<rect x="471" y="177" width="3" height="12" fill="#c8545f"/>
<rect x="478" y="182" width="1" height="28" fill="#0b0b0b"/>
<rect x="476" y="191" width="5" height="6" fill="#0b0b0b"/>
<rect x="477" y="192" width="3" height="4" fill="#c8545f"/>
<rect x="484" y="194" width="1" height="49" fill="#0b0b0b"/>
<rect x="482" y="195" width="5" height="11" fill="#0b0b0b"/>
<rect x="483" y="196" width="3" height="9" fill="#c8545f"/>
<rect x="489" y="196" width="1" height="14" fill="#0b0b0b"/>
<rect x="487" y="201" width="5" height="5" fill="#0b0b0b"/>
<rect x="488" y="202" width="3" height="3" fill="#3a8a7a"/>
<rect x="495" y="178" width="1" height="24" fill="#0b0b0b"/>
<rect x="493" y="182" width="5" height="20" fill="#0b0b0b"/>
<rect x="494" y="183" width="3" height="18" fill="#3a8a7a"/>
<rect x="501" y="178" width="1" height="30" fill="#0b0b0b"/>
<rect x="499" y="182" width="5" height="18" fill="#0b0b0b"/>
<rect x="500" y="183" width="3" height="16" fill="#c8545f"/>
<rect x="507" y="185" width="1" height="28" fill="#0b0b0b"/>
<rect x="505" y="199" width="5" height="3" fill="#0b0b0b"/>
<rect x="506" y="200" width="3" height="1" fill="#c8545f"/>
<rect x="513" y="191" width="1" height="36" fill="#0b0b0b"/>
<rect x="511" y="201" width="5" height="2" fill="#0b0b0b"/>
<rect x="518" y="189" width="1" height="42" fill="#0b0b0b"/>
<rect x="516" y="202" width="5" height="26" fill="#0b0b0b"/>
<rect x="517" y="203" width="3" height="24" fill="#c8545f"/>
<rect x="524" y="224" width="1" height="41" fill="#0b0b0b"/>
<rect x="522" y="228" width="5" height="30" fill="#0b0b0b"/>
<rect x="523" y="229" width="3" height="28" fill="#c8545f"/>
<rect x="530" y="249" width="1" height="24" fill="#0b0b0b"/>
<rect x="528" y="258" width="5" height="10" fill="#0b0b0b"/>
<rect x="529" y="259" width="3" height="8" fill="#c8545f"/>
<rect x="536" y="240" width="1" height="34" fill="#0b0b0b"/>
<rect x="534" y="246" width="5" height="22" fill="#0b0b0b"/>
<rect x="535" y="247" width="3" height="20" fill="#3a8a7a"/>
<rect x="541" y="228" width="1" height="18" fill="#0b0b0b"/>
<rect x="539" y="236" width="5" height="10" fill="#0b0b0b"/>
<rect x="540" y="237" width="3" height="8" fill="#3a8a7a"/>
<rect x="547" y="235" width="1" height="30" fill="#0b0b0b"/>
<rect x="545" y="236" width="5" height="11" fill="#0b0b0b"/>
<rect x="546" y="237" width="3" height="9" fill="#c8545f"/>
<rect x="553" y="228" width="1" height="29" fill="#0b0b0b"/>
<rect x="551" y="236" width="5" height="11" fill="#0b0b0b"/>
<rect x="552" y="237" width="3" height="9" fill="#3a8a7a"/>
<rect x="559" y="204" width="1" height="42" fill="#0b0b0b"/>
<rect x="557" y="206" width="5" height="30" fill="#0b0b0b"/>
<rect x="558" y="207" width="3" height="28" fill="#3a8a7a"/>
<rect x="565" y="204" width="1" height="22" fill="#0b0b0b"/>
<rect x="563" y="206" width="5" height="10" fill="#0b0b0b"/>
<rect x="564" y="207" width="3" height="8" fill="#c8545f"/>
<rect x="570" y="201" width="1" height="18" fill="#0b0b0b"/>
<rect x="568" y="216" width="5" height="3" fill="#0b0b0b"/>
<rect x="569" y="217" width="3" height="1" fill="#c8545f"/>
<rect x="576" y="184" width="1" height="35" fill="#0b0b0b"/>
<rect x="574" y="184" width="5" height="35" fill="#0b0b0b"/>
<rect x="575" y="185" width="3" height="33" fill="#3a8a7a"/>
<rect x="582" y="148" width="1" height="52" fill="#0b0b0b"/>
<rect x="580" y="184" width="5" height="8" fill="#0b0b0b"/>
<rect x="581" y="185" width="3" height="6" fill="#c8545f"/>
<rect x="588" y="172" width="1" height="26" fill="#0b0b0b"/>
<rect x="586" y="175" width="5" height="17" fill="#0b0b0b"/>
<rect x="587" y="176" width="3" height="15" fill="#3a8a7a"/>
<rect x="594" y="131" width="1" height="58" fill="#0b0b0b"/>
<rect x="592" y="135" width="5" height="40" fill="#0b0b0b"/>
<rect x="593" y="136" width="3" height="38" fill="#3a8a7a"/>
<rect x="599" y="121" width="1" height="89" fill="#0b0b0b"/>
<rect x="597" y="135" width="5" height="61" fill="#0b0b0b"/>
<rect x="598" y="136" width="3" height="59" fill="#c8545f"/>
<rect x="605" y="184" width="1" height="30" fill="#0b0b0b"/>
<rect x="603" y="196" width="5" height="11" fill="#0b0b0b"/>
<rect x="604" y="197" width="3" height="9" fill="#c8545f"/>
<rect x="611" y="200" width="1" height="8" fill="#0b0b0b"/>
<rect x="609" y="207" width="5" height="2" fill="#0b0b0b"/>
<rect x="617" y="193" width="1" height="15" fill="#0b0b0b"/>
<rect x="615" y="207" width="5" height="2" fill="#0b0b0b"/>
<rect x="623" y="206" width="1" height="34" fill="#0b0b0b"/>
<rect x="621" y="207" width="5" height="14" fill="#0b0b0b"/>
<rect x="622" y="208" width="3" height="12" fill="#c8545f"/>
<rect x="628" y="215" width="1" height="49" fill="#0b0b0b"/>
<rect x="626" y="221" width="5" height="43" fill="#0b0b0b"/>
<rect x="627" y="222" width="3" height="41" fill="#c8545f"/>
<rect x="634" y="241" width="1" height="28" fill="#0b0b0b"/>
<rect x="632" y="246" width="5" height="18" fill="#0b0b0b"/>
<rect x="633" y="247" width="3" height="16" fill="#3a8a7a"/>
<rect x="640" y="239" width="1" height="34" fill="#0b0b0b"/>
<rect x="638" y="246" width="5" height="21" fill="#0b0b0b"/>
<rect x="639" y="247" width="3" height="19" fill="#c8545f"/>
<rect x="646" y="207" width="1" height="69" fill="#0b0b0b"/>
<rect x="644" y="214" width="5" height="53" fill="#0b0b0b"/>
<rect x="645" y="215" width="3" height="51" fill="#3a8a7a"/>
<rect x="651" y="213" width="1" height="29" fill="#0b0b0b"/>
<rect x="649" y="214" width="5" height="18" fill="#0b0b0b"/>
<rect x="650" y="215" width="3" height="16" fill="#c8545f"/>
<rect x="657" y="229" width="1" height="59" fill="#0b0b0b"/>
<rect x="655" y="232" width="5" height="23" fill="#0b0b0b"/>
<rect x="656" y="233" width="3" height="21" fill="#c8545f"/>
<rect x="663" y="253" width="1" height="53" fill="#0b0b0b"/>
<rect x="661" y="256" width="5" height="40" fill="#0b0b0b"/>
<rect x="662" y="257" width="3" height="38" fill="#c8545f"/>
<rect x="669" y="268" width="1" height="45" fill="#0b0b0b"/>
<rect x="667" y="276" width="5" height="20" fill="#0b0b0b"/>
<rect x="668" y="277" width="3" height="18" fill="#3a8a7a"/>
<rect x="675" y="265" width="1" height="27" fill="#0b0b0b"/>
<rect x="673" y="276" width="5" height="6" fill="#0b0b0b"/>
<rect x="674" y="277" width="3" height="4" fill="#c8545f"/>
<rect x="680" y="255" width="1" height="31" fill="#0b0b0b"/>
<rect x="678" y="266" width="5" height="16" fill="#0b0b0b"/>
<rect x="679" y="267" width="3" height="14" fill="#3a8a7a"/>
<rect x="686" y="265" width="1" height="63" fill="#0b0b0b"/>
<rect x="684" y="266" width="5" height="51" fill="#0b0b0b"/>
<rect x="685" y="267" width="3" height="49" fill="#c8545f"/>
<rect x="692" y="311" width="1" height="18" fill="#0b0b0b"/>
<rect x="690" y="313" width="5" height="4" fill="#0b0b0b"/>
<rect x="691" y="314" width="3" height="2" fill="#3a8a7a"/>
<rect x="698" y="304" width="1" height="16" fill="#0b0b0b"/>
<rect x="696" y="313" width="5" height="6" fill="#0b0b0b"/>
<rect x="697" y="314" width="3" height="4" fill="#c8545f"/>
<rect x="704" y="299" width="1" height="31" fill="#0b0b0b"/>
<rect x="702" y="307" width="5" height="12" fill="#0b0b0b"/>
<rect x="703" y="308" width="3" height="10" fill="#3a8a7a"/>
<rect x="709" y="276" width="1" height="41" fill="#0b0b0b"/>
<rect x="707" y="282" width="5" height="25" fill="#0b0b0b"/>
<rect x="708" y="283" width="3" height="23" fill="#3a8a7a"/>
<rect x="715" y="266" width="1" height="24" fill="#0b0b0b"/>
<rect x="713" y="276" width="5" height="6" fill="#0b0b0b"/>
<rect x="714" y="277" width="3" height="4" fill="#3a8a7a"/>
<rect x="721" y="271" width="1" height="34" fill="#0b0b0b"/>
<rect x="719" y="276" width="5" height="12" fill="#0b0b0b"/>
<rect x="720" y="277" width="3" height="10" fill="#c8545f"/>
<rect x="727" y="256" width="1" height="39" fill="#0b0b0b"/>
<rect x="725" y="289" width="5" height="2" fill="#0b0b0b"/>
<rect x="733" y="282" width="1" height="14" fill="#0b0b0b"/>
<rect x="731" y="289" width="5" height="6" fill="#0b0b0b"/>
<rect x="732" y="290" width="3" height="4" fill="#c8545f"/>
<rect x="738" y="278" width="1" height="17" fill="#0b0b0b"/>
<rect x="736" y="284" width="5" height="11" fill="#0b0b0b"/>
<rect x="737" y="285" width="3" height="9" fill="#3a8a7a"/>
<rect x="744" y="262" width="1" height="27" fill="#0b0b0b"/>
<rect x="742" y="272" width="5" height="13" fill="#0b0b0b"/>
<rect x="743" y="273" width="3" height="11" fill="#3a8a7a"/>
<rect x="750" y="258" width="1" height="29" fill="#0b0b0b"/>
<rect x="748" y="272" width="5" height="8" fill="#0b0b0b"/>
<rect x="749" y="273" width="3" height="6" fill="#c8545f"/>
<rect x="756" y="246" width="1" height="40" fill="#0b0b0b"/>
<rect x="754" y="249" width="5" height="31" fill="#0b0b0b"/>
<rect x="755" y="250" width="3" height="29" fill="#3a8a7a"/>
<rect x="761" y="230" width="1" height="25" fill="#0b0b0b"/>
<rect x="759" y="230" width="5" height="19" fill="#0b0b0b"/>
<rect x="760" y="231" width="3" height="17" fill="#3a8a7a"/>
<rect x="767" y="215" width="1" height="25" fill="#0b0b0b"/>
<rect x="765" y="223" width="5" height="7" fill="#0b0b0b"/>
<rect x="766" y="224" width="3" height="5" fill="#3a8a7a"/>
<rect x="773" y="220" width="1" height="14" fill="#0b0b0b"/>
<rect x="771" y="223" width="5" height="3" fill="#0b0b0b"/>
<rect x="772" y="224" width="3" height="1" fill="#c8545f"/>
<rect x="779" y="222" width="1" height="12" fill="#0b0b0b"/>
<rect x="777" y="226" width="5" height="8" fill="#0b0b0b"/>
<rect x="778" y="227" width="3" height="6" fill="#c8545f"/>
<rect x="785" y="215" width="1" height="29" fill="#0b0b0b"/>
<rect x="783" y="232" width="5" height="2" fill="#0b0b0b"/>
<rect x="790" y="212" width="1" height="27" fill="#0b0b0b"/>
<rect x="788" y="214" width="5" height="19" fill="#0b0b0b"/>
<rect x="789" y="215" width="3" height="17" fill="#3a8a7a"/>
<rect x="796" y="209" width="1" height="31" fill="#0b0b0b"/>
<rect x="794" y="214" width="5" height="5" fill="#0b0b0b"/>
<rect x="795" y="215" width="3" height="3" fill="#c8545f"/>
<rect x="802" y="201" width="1" height="21" fill="#0b0b0b"/>
<rect x="800" y="211" width="5" height="9" fill="#0b0b0b"/>
<rect x="801" y="212" width="3" height="7" fill="#3a8a7a"/>
<rect x="808" y="206" width="1" height="28" fill="#0b0b0b"/>
<rect x="806" y="211" width="5" height="17" fill="#0b0b0b"/>
<rect x="807" y="212" width="3" height="15" fill="#c8545f"/>
<rect x="814" y="222" width="1" height="9" fill="#0b0b0b"/>
<rect x="812" y="228" width="5" height="2" fill="#0b0b0b"/>
<rect x="819" y="226" width="1" height="7" fill="#0b0b0b"/>
<rect x="817" y="228" width="5" height="5" fill="#0b0b0b"/>
<rect x="818" y="229" width="3" height="3" fill="#c8545f"/>
<rect x="825" y="232" width="1" height="41" fill="#0b0b0b"/>
<rect x="823" y="233" width="5" height="31" fill="#0b0b0b"/>
<rect x="824" y="234" width="3" height="29" fill="#c8545f"/>
<rect x="831" y="258" width="1" height="22" fill="#0b0b0b"/>
<rect x="829" y="264" width="5" height="10" fill="#0b0b0b"/>
<rect x="830" y="265" width="3" height="8" fill="#c8545f"/>
<rect x="837" y="249" width="1" height="35" fill="#0b0b0b"/>
<rect x="835" y="257" width="5" height="17" fill="#0b0b0b"/>
<rect x="836" y="258" width="3" height="15" fill="#3a8a7a"/>
<rect x="843" y="254" width="1" height="60" fill="#0b0b0b"/>
<rect x="841" y="257" width="5" height="52" fill="#0b0b0b"/>
<rect x="842" y="258" width="3" height="50" fill="#c8545f"/>
<rect x="848" y="293" width="1" height="21" fill="#0b0b0b"/>
<rect x="846" y="302" width="5" height="7" fill="#0b0b0b"/>
<rect x="847" y="303" width="3" height="5" fill="#3a8a7a"/>
<rect x="854" y="300" width="1" height="8" fill="#0b0b0b"/>
<rect x="852" y="301" width="5" height="2" fill="#0b0b0b"/>
<rect x="860" y="269" width="1" height="38" fill="#0b0b0b"/>
<rect x="858" y="272" width="5" height="30" fill="#0b0b0b"/>
<rect x="859" y="273" width="3" height="28" fill="#3a8a7a"/>
<rect x="866" y="244" width="1" height="34" fill="#0b0b0b"/>
<rect x="864" y="244" width="5" height="28" fill="#0b0b0b"/>
<rect x="865" y="245" width="3" height="26" fill="#3a8a7a"/>
<rect x="871" y="240" width="1" height="25" fill="#0b0b0b"/>
<rect x="869" y="246" width="5" height="3" fill="#0b0b0b"/>
<rect x="870" y="247" width="3" height="1" fill="#c8545f"/>
<rect x="877" y="192" width="1" height="56" fill="#0b0b0b"/>
<rect x="875" y="192" width="5" height="56" fill="#0b0b0b"/>
<rect x="876" y="193" width="3" height="54" fill="#3a8a7a"/>
<rect x="883" y="163" width="1" height="32" fill="#0b0b0b"/>
<rect x="881" y="170" width="5" height="22" fill="#0b0b0b"/>
<rect x="882" y="171" width="3" height="20" fill="#3a8a7a"/>
<rect x="889" y="128" width="1" height="56" fill="#0b0b0b"/>
<rect x="887" y="148" width="5" height="20" fill="#0b0b0b"/>
<rect x="888" y="149" width="3" height="18" fill="#3a8a7a"/>
<rect x="895" y="141" width="1" height="16" fill="#0b0b0b"/>
<rect x="893" y="147" width="5" height="2" fill="#0b0b0b"/>
<rect x="900" y="106" width="1" height="43" fill="#0b0b0b"/>
<rect x="898" y="133" width="5" height="14" fill="#0b0b0b"/>
<rect x="899" y="134" width="3" height="12" fill="#3a8a7a"/>
<rect x="906" y="100" width="1" height="38" fill="#0b0b0b"/>
<rect x="904" y="119" width="5" height="15" fill="#0b0b0b"/>
<rect x="905" y="120" width="3" height="13" fill="#3a8a7a"/>
<rect x="912" y="112" width="1" height="56" fill="#0b0b0b"/>
<rect x="910" y="119" width="5" height="40" fill="#0b0b0b"/>
<rect x="911" y="120" width="3" height="38" fill="#c8545f"/>
<rect x="918" y="125" width="1" height="37" fill="#0b0b0b"/>
<rect x="916" y="135" width="5" height="24" fill="#0b0b0b"/>
<rect x="917" y="136" width="3" height="22" fill="#3a8a7a"/>
<rect x="924" y="130" width="1" height="49" fill="#0b0b0b"/>
<rect x="922" y="135" width="5" height="21" fill="#0b0b0b"/>
<rect x="923" y="136" width="3" height="19" fill="#c8545f"/>
<rect x="929" y="145" width="1" height="155" fill="#0b0b0b"/>
<rect x="927" y="155" width="5" height="107" fill="#0b0b0b"/>
<rect x="928" y="156" width="3" height="105" fill="#c8545f"/>
<rect x="935" y="256" width="1" height="44" fill="#0b0b0b"/>
<rect x="933" y="262" width="5" height="26" fill="#0b0b0b"/>
<rect x="934" y="263" width="3" height="24" fill="#c8545f"/>
<rect x="941" y="226" width="1" height="74" fill="#0b0b0b"/>
<rect x="939" y="236" width="5" height="52" fill="#0b0b0b"/>
<rect x="940" y="237" width="3" height="50" fill="#3a8a7a"/>
<rect x="947" y="224" width="1" height="28" fill="#0b0b0b"/>
<rect x="945" y="234" width="5" height="3" fill="#0b0b0b"/>
<rect x="946" y="235" width="3" height="1" fill="#3a8a7a"/>
<rect x="953" y="232" width="1" height="66" fill="#0b0b0b"/>
<rect x="951" y="233" width="5" height="27" fill="#0b0b0b"/>
<rect x="952" y="234" width="3" height="25" fill="#c8545f"/>
<rect x="958" y="253" width="1" height="42" fill="#0b0b0b"/>
<rect x="956" y="260" width="5" height="28" fill="#0b0b0b"/>
<rect x="957" y="261" width="3" height="26" fill="#c8545f"/>
<rect x="964" y="273" width="1" height="55" fill="#0b0b0b"/>
<rect x="962" y="288" width="5" height="31" fill="#0b0b0b"/>
<rect x="963" y="289" width="3" height="29" fill="#c8545f"/>
<rect x="970" y="306" width="1" height="70" fill="#0b0b0b"/>
<rect x="968" y="319" width="5" height="22" fill="#0b0b0b"/>
<rect x="969" y="320" width="3" height="20" fill="#c8545f"/>
<rect x="976" y="328" width="1" height="14" fill="#0b0b0b"/>
<rect x="974" y="332" width="5" height="9" fill="#0b0b0b"/>
<rect x="975" y="333" width="3" height="7" fill="#3a8a7a"/>
<rect x="981" y="304" width="1" height="40" fill="#0b0b0b"/>
<rect x="979" y="315" width="5" height="17" fill="#0b0b0b"/>
<rect x="980" y="316" width="3" height="15" fill="#3a8a7a"/>
<rect x="987" y="277" width="1" height="51" fill="#0b0b0b"/>
<rect x="985" y="291" width="5" height="24" fill="#0b0b0b"/>
<rect x="986" y="292" width="3" height="22" fill="#3a8a7a"/>
<rect x="993" y="248" width="1" height="80" fill="#0b0b0b"/>
<rect x="991" y="291" width="5" height="27" fill="#0b0b0b"/>
<rect x="992" y="292" width="3" height="25" fill="#c8545f"/>
<rect x="999" y="308" width="1" height="37" fill="#0b0b0b"/>
<rect x="997" y="318" width="5" height="10" fill="#0b0b0b"/>
<rect x="998" y="319" width="3" height="8" fill="#c8545f"/>
<rect x="1005" y="281" width="1" height="47" fill="#0b0b0b"/>
<rect x="1003" y="296" width="5" height="32" fill="#0b0b0b"/>
<rect x="1004" y="297" width="3" height="30" fill="#3a8a7a"/>
<rect x="1010" y="272" width="1" height="29" fill="#0b0b0b"/>
<rect x="1008" y="286" width="5" height="10" fill="#0b0b0b"/>
<rect x="1009" y="287" width="3" height="8" fill="#3a8a7a"/>
<rect x="1016" y="274" width="1" height="15" fill="#0b0b0b"/>
<rect x="1014" y="277" width="5" height="9" fill="#0b0b0b"/>
<rect x="1015" y="278" width="3" height="7" fill="#3a8a7a"/>
<rect x="1022" y="231" width="1" height="50" fill="#0b0b0b"/>
<rect x="1020" y="242" width="5" height="36" fill="#0b0b0b"/>
<rect x="1021" y="243" width="3" height="34" fill="#3a8a7a"/>
<rect x="1028" y="220" width="1" height="24" fill="#0b0b0b"/>
<rect x="1026" y="232" width="5" height="11" fill="#0b0b0b"/>
<rect x="1027" y="233" width="3" height="9" fill="#3a8a7a"/>
</g></svg>
<svg class="abs" style="left:0;top:0" width="1288" height="729" viewBox="0 0 1288 729">
<g fill="none" stroke="#131722" stroke-width="1.2" stroke-linecap="round" stroke-linejoin="round">
<!-- ===== TOP BAR ===== -->
<!-- separators -->
<g stroke="#e6e6e8" stroke-width="1" stroke-linecap="butt">
<line x1="195" y1="8" x2="195" y2="30"/><line x1="240.5" y1="8" x2="240.5" y2="30"/><line x1="287.5" y1="8" x2="287.5" y2="30"/>
<line x1="467.5" y1="8" x2="467.5" y2="30"/><line x1="642.5" y1="8" x2="642.5" y2="30"/><line x1="1053.5" y1="8" x2="1053.5" y2="30"/>
</g>
<!-- search -->
<circle cx="70.2" cy="17.7" r="5.5" stroke-width="1.4"/><line x1="74.3" y1="21.8" x2="78" y2="25.5" stroke-width="1.4"/>
<!-- plus circle -->
<circle cx="170.4" cy="19.3" r="9.2" stroke-width="1.1"/><line x1="170.4" y1="15.1" x2="170.4" y2="23.5"/><line x1="166.2" y1="19.3" x2="174.6" y2="19.3"/>
<!-- candles icon -->
<rect x="258.4" y="12.3" width="4.3" height="13.1" rx="0.6"/><line x1="260.5" y1="9" x2="260.5" y2="12.3"/><line x1="260.5" y1="25.4" x2="260.5" y2="28.6"/>
<rect x="266.5" y="15.4" width="4" height="7.2" rx="0.6"/><line x1="268.5" y1="12.1" x2="268.5" y2="15.4"/><line x1="268.5" y1="22.6" x2="268.5" y2="25.8"/>
<!-- indicators icon -->
<polyline points="302.9,16.8 308.2,11.7 312.4,14.9 320,10"/>
<path d="M303.4 27.4V23.3H307V27.4M307 27.4V20.1H311.5V27.4M311.5 27.4V23H315.5V27.4M315.5 27.4V17.4H319.6V27.4ZM303.4 27.4H319.6"/>
<!-- chevron -->
<polyline points="409.2,17.1 412.9,20.6 416.8,17.1" stroke-width="1.1"/>
<!-- layout squares -->
<rect x="436.6" y="11.4" width="6.2" height="6.2" rx="1.6" stroke-width="1.3"/><rect x="445.6" y="11.4" width="6.2" height="6.2" rx="1.6" stroke-width="1.3"/>
<rect x="436.6" y="20.4" width="6.2" height="6.2" rx="1.6" stroke-width="1.3"/><rect x="445.6" y="20.4" width="6.2" height="6.2" rx="1.6" stroke-width="1.3"/>
<!-- alert icon -->
<path d="M494.5 26.3A8 8 0 1 1 498.4 20.3"/>
<polyline points="490.2,14.4 490.2,19.5 487.4,19.5"/>
<line x1="481.2" y1="13.3" x2="484.6" y2="10.2"/><line x1="496.4" y1="10.2" x2="499.8" y2="13.3"/>
<line x1="496.3" y1="21.8" x2="496.3" y2="29.6"/><line x1="492.3" y1="25.6" x2="500.4" y2="25.6"/>
<!-- replay -->
<path d="M562.6 19.5L568.5 14.6V24.4Z M570.6 19.5L576.5 14.6V24.4Z"/>
<!-- undo / redo -->
<path d="M663.2 14.3L659.4 18L663.2 21.7M659.6 18H666.2Q671.8 18 671.8 24"/>
<path d="M706.1 14.3L709.9 18L706.1 21.7M709.7 18H703.1Q697.5 18 697.5 24" stroke="#a3a6af"/>
<!-- square -->
<rect x="927.5" y="11.6" width="18" height="15.8" rx="2.6" stroke-width="1.3"/>
<!-- chevron 2 -->
<polyline points="1033.4,17.1 1037,20.6 1040.7,17.1" stroke-width="1.1"/>
<!-- flash search -->
<path d="M1073.2 10.9A7.6 7.6 0 1 0 1082.9 20.6"/>
<path d="M1078.6 8.4L1074.9 15.3H1078L1077.4 20.6L1082.6 14H1079.3L1080.2 8.4Z" stroke-width="1.1"/>
<line x1="1081.4" y1="24.4" x2="1085.6" y2="28.6"/>
<!-- settings hexagon -->
<path d="M1105.3 18.8L1109.9 10.8H1120.5L1125.1 18.8L1120.5 26.8H1109.9Z"/>
<circle cx="1115.2" cy="18.9" r="3.8"/>
<!-- fullscreen -->
<path d="M1145.2 15.6V13.2Q1145.2 11.4 1147 11.4H1149.4 M1156.4 11.4H1158.8Q1160.6 11.4 1160.6 13.2V15.6 M1160.6 22.6V25Q1160.6 26.8 1158.8 26.8H1156.4 M1149.4 26.8H1147Q1145.2 26.8 1145.2 25V22.6"/>
<!-- camera -->
<path d="M1182 12.1H1186.6L1187.7 10.2H1193.2L1194.3 12.1H1199Q1200.6 12.1 1200.6 13.7V24.7Q1200.6 26.3 1199 26.3H1181.9Q1180.3 26.3 1180.3 24.7V13.7Q1180.3 12.1 1182 12.1Z"/>
<circle cx="1190.4" cy="19.3" r="4.3"/>

<!-- ===== LEFT BAR ===== -->
<rect x="9.5" y="50" width="33.2" height="33.8" rx="6" fill="#ebebeb" stroke="none"/>
<path d="M19.4 59.8V72.3L22.8 68.8L25.9 74.9L28.9 73.6L26.3 67.8L30.2 66.8Z" stroke-width="1.25"/>
<line x1="15.9" y1="105.3" x2="24.3" y2="105.3"/><line x1="28.7" y1="105.3" x2="37.1" y2="105.3"/><circle cx="26.5" cy="105.3" r="2.2"/>
<!-- channel -->
<line x1="15" y1="133.3" x2="37" y2="133.3"/><line x1="15" y1="139.3" x2="34.4" y2="139.3"/><line x1="15" y1="145.4" x2="37" y2="145.4"/><line x1="17.6" y1="151.4" x2="37" y2="151.4"/>
<circle cx="36.6" cy="139.3" r="2.1"/><circle cx="15.4" cy="151.4" r="2.1"/>
<!-- pattern -->
<g stroke-width="1.1"><line x1="17.3" y1="189.6" x2="20.3" y2="172.5"/><line x1="17.3" y1="189.6" x2="24.4" y2="179.3"/><line x1="20.3" y1="172.5" x2="24.4" y2="179.3"/><line x1="24.4" y1="179.3" x2="32.4" y2="173.3"/><line x1="32.4" y1="173.3" x2="35.4" y2="186.6"/><line x1="24.4" y1="179.3" x2="35.4" y2="186.6"/></g>
<g fill="#fff"><circle cx="20.3" cy="172.5" r="2.1"/><circle cx="32.4" cy="173.3" r="2.1"/><circle cx="24.4" cy="179.3" r="2.1"/><circle cx="35.4" cy="186.6" r="2.1"/><circle cx="17.3" cy="189.6" r="2.1"/></g>
<!-- fib -->
<line x1="18.4" y1="211.3" x2="36" y2="211.3"/><line x1="18.4" y1="221.3" x2="32.3" y2="221.3"/><line x1="18.4" y1="227.6" x2="36" y2="227.6"/>
<circle cx="16.3" cy="211.3" r="2.1"/><circle cx="16.3" cy="221.3" r="2.1"/><circle cx="34.4" cy="221.3" r="2.1"/><circle cx="16.3" cy="227.6" r="2.1"/>
<line x1="21.5" y1="219" x2="34.4" y2="213.3" stroke-dasharray="1 2.2" stroke-width="1"/>
<!-- brush -->
<path d="M15.2 265.4H25Q29.6 264.6 29.6 260Q29 255.3 25 255.6Q20.5 257 15.2 265.4Z"/>
<path d="M30.3 252.6Q30.6 255.6 33.4 255.3L39 249.6" />
<!-- T -->
<path d="M19.4 289.6V287.2H33.8V289.6M26.6 287.2V303.3M24.1 303.3H29.1" stroke-width="1.15" stroke-linecap="butt"/>
<!-- smiley -->
<circle cx="26.1" cy="332.8" r="10.5"/>
<circle cx="23.4" cy="330.4" r="0.6" fill="#131722"/><circle cx="28.8" cy="330.4" r="0.6" fill="#131722"/>
<path d="M22.8 335.1Q26.1 339.2 29.4 335.1"/>
<line x1="8" y1="358.5" x2="44" y2="358.5" stroke="#e6e6e8" stroke-width="1"/>
<!-- ruler -->
<path d="M14.6 389.9L32.4 372.3L37.9 377.6L20 395.4Z"/>
<path d="M18.7 385.9L20.6 387.8M21.7 382.9L23.6 384.8M24.7 379.9L26.6 381.8M27.7 376.9L29.6 378.8M30.7 373.9L32.6 375.8" stroke-width="1.1"/>
<!-- zoom -->
<circle cx="24.5" cy="420.4" r="7.9"/><line x1="21" y1="420.4" x2="28" y2="420.4"/><line x1="24.5" y1="416.9" x2="24.5" y2="423.9"/><line x1="30.3" y1="426.2" x2="34" y2="429.9"/>
<line x1="8" y1="447.4" x2="44" y2="447.4" stroke="#e6e6e8" stroke-width="1"/>
<!-- magnet -->
<path d="M18.4 481.5V470.8Q18.4 463.2 26 463.2Q33.7 463.2 33.7 470.8V481.5H28.6V471Q28.6 468.3 26 468.3Q23.4 468.3 23.4 471V481.5Z M18.4 477.4H23.4 M28.6 477.4H33.7"/>
<!-- pencil lock -->
<path d="M15.8 516.6L16.4 511.9L26.5 501.8Q28.3 500.3 29.9 501.8Q31.3 503.5 29.8 505.2L19.8 515.3Z M16.4 511.9L19.8 515.3"/>
<rect x="27.3" y="515.6" width="8.4" height="5.4" rx="0.8"/><path d="M28.9 515.6V513.3Q28.9 510.7 31.2 510.7Q33.3 510.7 33.5 512.6"/>
<line x1="31.5" y1="517.6" x2="31.5" y2="518.8" stroke-width="1.3"/>
<!-- lock -->
<rect x="18.4" y="546.8" width="15" height="11.5" rx="1.6"/><path d="M21.8 546.8V543.8Q21.8 540.3 25.4 540.3Q28.8 540.3 29.3 543.4"/>
<line x1="26" y1="551.2" x2="26" y2="553.4" stroke-width="1.6"/>
<!-- eye -->
<path d="M15.4 582.9Q24.9 570.5 34.4 582.9Q24.9 595.3 15.4 582.9Z"/><circle cx="24.9" cy="582.9" r="3.3"/>
<path d="M26.8 597.6H30.4Q32.8 597 32.4 594.6Q31.4 592.6 29.6 593.4Q28 594.6 26.8 597.6Z M33.2 593L36.6 590.8" stroke-width="1"/>
<line x1="8" y1="612.5" x2="44" y2="612.5" stroke="#e6e6e8" stroke-width="1"/>
<!-- trash -->
<path d="M17.2 631.3H34.8 M22.8 631.3V629.6Q22.8 628.6 23.8 628.6H28.2Q29.2 628.6 29.2 629.6V631.3 M19.6 631.3L21.1 647.6H30.9L32.4 631.3"/>

<!-- ===== RIGHT BAR ===== -->
<path d="M1256.2 55.5H1275.5V77.3L1265.8 73.4L1256.2 77.3Z"/>
<line x1="1260.1" y1="60.3" x2="1271.6" y2="60.3"/><line x1="1260.1" y1="64.4" x2="1271.6" y2="64.4"/><line x1="1260.1" y1="68.4" x2="1271.6" y2="68.4"/>
<circle cx="1266.1" cy="111.7" r="10.6"/><polyline points="1266.1,106 1266.1,113.4 1261.2,113.4"/>
<line x1="1253.5" y1="104.6" x2="1259" y2="99.8"/><line x1="1273.2" y1="99.8" x2="1278.6" y2="104.6"/>
<path d="M1254.2 154.7L1265.9 148.2L1277 154.7L1265.9 161.2Z"/><polyline points="1254.2,160.3 1265.9,166.8 1277,160.3"/>
<path d="M1256.4 194H1271.7Q1273.7 194 1273.7 196V205.8Q1273.7 207.8 1271.7 207.8H1258.6L1254.4 212.8V196Q1254.4 194 1256.4 194Z"/>
<path d="M1273.7 201.5H1275.6Q1277.6 201.5 1277.6 203.5V216.6L1273.4 212.2H1265.4Q1263.4 212.2 1263.4 210.2V207.8"/>
<!-- target -->
<circle cx="1265.8" cy="510" r="13.6"/><circle cx="1265.8" cy="510" r="7.6"/><circle cx="1265.8" cy="510" r="1.6" fill="#131722"/><line x1="1265.8" y1="510" x2="1275.4" y2="500.4"/>
<!-- calendar -->
<rect x="1254.5" y="546.7" width="23" height="20.3" rx="2.6"/><line x1="1254.5" y1="553.4" x2="1277.5" y2="553.4"/>
<rect x="1258.7" y="544.5" width="3" height="4.6" rx="1" fill="#fff"/><rect x="1270.4" y="544.5" width="3" height="4.6" rx="1" fill="#fff"/>
<!-- dark grid circle -->
<circle cx="1265.9" cy="602" r="16.7" fill="#2a2a2a" stroke="none"/>
<g fill="#fff" stroke="none">
<rect x="1257.1" y="593.3" width="3.9" height="3.9" rx="0.8"/><rect x="1264" y="593.3" width="3.9" height="3.9" rx="0.8"/><rect x="1271" y="593.3" width="3.9" height="3.9" rx="0.8"/>
<rect x="1257.1" y="600.1" width="3.9" height="3.9" rx="0.8"/><rect x="1264" y="600.1" width="3.9" height="3.9" rx="0.8"/><rect x="1271" y="600.1" width="3.9" height="3.9" rx="0.8"/>
<rect x="1257.1" y="607" width="3.9" height="3.9" rx="0.8"/><rect x="1264" y="607" width="3.9" height="3.9" rx="0.8"/><rect x="1271" y="607" width="3.9" height="3.9" rx="0.8"/>
</g>
<line x1="1248.5" y1="630.2" x2="1282" y2="630.2" stroke="#e6e6e8" stroke-width="1"/>
<!-- feed -->
<circle cx="1257" cy="666.5" r="1.6"/>
<path d="M1255.6 660Q1264.5 660 1264.5 668.8 M1255.6 653.8Q1270.7 653.8 1270.7 668.8 M1255.6 647.6Q1276.9 647.6 1276.9 668.8"/>
<circle cx="1275.5" cy="647.3" r="7.6" fill="#e5394b" stroke="#fff" stroke-width="1.5"/>
<!-- help -->
<path d="M1256.2 697.6A13.6 13.6 0 0 1 1271.3 692.4 M1277.6 702.3A13.6 13.6 0 0 1 1257.4 715.8 M1253.9 707.8A13.6 13.6 0 0 1 1254.6 698.5"/>
<path d="M1276.8 691.2L1278.4 694.5L1281.2 695.3L1278.4 696.1L1276.8 699.4L1275.2 696.1L1272.4 695.3L1275.2 694.5Z" stroke-width="1"/>
<path d="M1254.6 708.9L1255.6 711.5L1258 712.2L1255.6 712.9L1254.6 715.4L1253.6 712.9L1251.2 712.2L1253.6 711.5Z" stroke-width="1"/>
<path d="M1262.3 700.3Q1262.5 697.2 1265.7 697.2Q1269 697.4 1268.9 700.4Q1268.7 702.3 1266.7 704.3Q1265.4 705.7 1265.4 707.4"/>
<circle cx="1265.5" cy="710.6" r="1"/>

<!-- ===== CHART OVERLAYS ===== -->
<!-- collapse button -->
<rect x="64.5" y="145.5" width="27.5" height="20" rx="3" stroke="#e6e6e8" stroke-width="1"/>
<polyline points="74.5,157.6 78.2,154 81.9,157.6" stroke-width="1.3"/>
<!-- time axis gear -->
<path d="M1199.7 634.4L1203.2 628.4H1209.8L1213.3 634.4L1209.8 640.4H1203.2Z" stroke-width="1.15"/><circle cx="1206.4" cy="634.4" r="2.1" stroke-width="1.1"/>
<!-- range bar -->
<line x1="56" y1="648.5" x2="1239" y2="648.5" stroke="#e6e6e8" stroke-width="1"/>
<line x1="332.5" y1="657" x2="332.5" y2="678.5" stroke="#e6e6e8" stroke-width="1"/>
<path d="M347.4 666.4V662.2Q347.4 660.6 349 660.6H362.9Q364.5 660.6 364.5 662.2V673.9Q364.5 675.5 362.9 675.5H356.3 M347.4 664.1H364.5 M352.3 658.2V661.6 M359.4 658.2V661.6 M346.2 672.2H353.6 M350.6 669.3L353.6 672.2L350.6 675.3" stroke-width="1.2"/>
<!-- bottom panel icons -->
<polyline points="1176,711.7 1184.4,705.4 1193,711.7" stroke-width="1.3"/>
<path d="M1212.7 706.8V704.8Q1212.7 702.4 1215.1 702.4H1224.9Q1227.3 702.4 1227.3 704.8V706.8 M1227.3 713V715.2Q1227.3 717.6 1224.9 717.6H1215.1Q1212.7 717.6 1212.7 715.2V713" stroke-width="1.3"/>
</g>

<!-- avatar -->
<circle cx="26" cy="18.9" r="12.9" fill="#a07a62"/>
<circle cx="41" cy="9.9" r="10" fill="#fff"/>
<circle cx="41" cy="9.9" r="8.6" fill="#e5303f"/>
<text x="25.8" y="25" font-size="17.5" fill="#fff" text-anchor="middle">T</text>
<text x="40.8" y="13" font-size="9.5" font-weight="bold" fill="#fff" text-anchor="middle">11</text>
<text x="1275.6" y="651" font-size="10.5" font-weight="bold" fill="#fff" text-anchor="middle">2</text>

<!-- top text -->
<g fill="#131722" stroke="#131722" stroke-width="0.22">
<text x="84.8" y="23.6" font-size="13" font-weight="bold" textLength="49.4" lengthAdjust="spacingAndGlyphs">BTCUSD</text>
<text x="214" y="23.6" font-size="13.3" textLength="7.3" lengthAdjust="spacingAndGlyphs">D</text>
<text x="329.2" y="24.2" font-size="14" textLength="61.6" lengthAdjust="spacingAndGlyphs">Indicators</text>
<text x="509.2" y="23.6" font-size="14" textLength="30.3" lengthAdjust="spacingAndGlyphs">Alert</text>
<text x="587.6" y="23.7" font-size="13.5" textLength="40.2" lengthAdjust="spacingAndGlyphs">Replay</text>
<text x="961.3" y="18.8" font-size="13.5" textLength="57.1" lengthAdjust="spacingAndGlyphs">Unnamed</text>
</g>
<text x="980.3" y="29.6" font-size="8.8" fill="#3f63b8" textLength="19.6" lengthAdjust="spacingAndGlyphs">Save</text>
<rect x="1214.2" y="5.4" width="69" height="27.1" rx="13.5" fill="#292929"/>
<text x="1226.6" y="23.8" font-size="14" fill="#fff" stroke="#fff" stroke-width="0.55" textLength="44" lengthAdjust="spacingAndGlyphs">Publish</text>

<!-- legend -->
<circle cx="73.3" cy="58" r="7.6" fill="#dff2ee"/>
<circle cx="73.3" cy="58" r="3.8" fill="#16917d"/>
<g font-size="12.3" fill="#131722" stroke="#131722" stroke-width="0.08">
<text x="90" y="63" textLength="54.4" lengthAdjust="spacingAndGlyphs">O114,551</text>
<text x="152" y="63" textLength="53.4" lengthAdjust="spacingAndGlyphs">H116,381</text>
<text x="213" y="63" textLength="52" lengthAdjust="spacingAndGlyphs">L114,385</text>
<text x="272.2" y="63" textLength="53.4" lengthAdjust="spacingAndGlyphs">C115,458</text>
<text x="332.9" y="63" textLength="26.4" lengthAdjust="spacingAndGlyphs">+907</text>
<text x="364.3" y="63" textLength="48.4" lengthAdjust="spacingAndGlyphs">(+0.79%)</text>
</g>
<g font-size="12.3" stroke-width="0.2">
<text x="65.5" y="86.8" fill="#131722" stroke="#131722" textLength="23.4" lengthAdjust="spacingAndGlyphs">EMA</text><text x="97.5" y="86.8" fill="#3d64b5" stroke="#3d64b5" textLength="44.4" lengthAdjust="spacingAndGlyphs">108,316</text>
<text x="65.5" y="110.7" fill="#131722" stroke="#131722" textLength="23.4" lengthAdjust="spacingAndGlyphs">EMA</text><text x="97.5" y="110.7" fill="#c9505c" stroke="#c9505c" textLength="44.4" lengthAdjust="spacingAndGlyphs">113,462</text>
<text x="65.5" y="134.5" fill="#131722" stroke="#131722">Vol · BTC</text><text x="126.5" y="134.5" fill="#26998a" stroke="#26998a" textLength="19.2" lengthAdjust="spacingAndGlyphs">973</text>
</g>

<!-- TradingView watermark -->
<g>
<path d="M68 591.5H80.5V606H75V597H68Z M84.8 606L92 591.5H97.5L90.3 606Z" fill="#131722" stroke="#fff" stroke-width="5" stroke-linejoin="round" paint-order="stroke"/>
<circle cx="84.8" cy="594.4" r="2.9" fill="#131722" stroke="#fff" stroke-width="5" paint-order="stroke"/>
<text x="105.4" y="606" font-size="20.5" font-weight="bold" fill="#131722" stroke="#fff" stroke-width="6" stroke-linejoin="round" paint-order="stroke" textLength="120.2" lengthAdjust="spacingAndGlyphs">TradingView</text>
</g>

<!-- time axis -->
<g font-size="12.6" fill="#131722" stroke="#131722" stroke-width="0.3" text-anchor="middle">
<text x="170.4" y="638.3">Jun</text><text x="344.2" y="638.3">Jul</text><text x="524" y="638.3">Aug</text>
<text x="704" y="638.3">Sep</text><text x="877.3" y="638.3">Oct</text><text x="1057" y="638.3">Nov</text>
</g>
<!-- range bar text -->
<g font-size="12.8" fill="#131722" stroke="#131722" stroke-width="0.2" transform="translate(0,-0.6)">
<text x="70.4" y="673">1D</text><text x="98.2" y="673">5D</text><text x="126.8" y="673">1M</text><text x="155.4" y="673">3M</text>
<text x="184.4" y="673">6M</text><text x="214.3" y="673">YTD</text><text x="251" y="673">1Y</text><text x="278.4" y="673">5Y</text><text x="305" y="673">All</text>
<text x="1146" y="673.3" textLength="82" lengthAdjust="spacingAndGlyphs">18:36:42 UTC</text>
</g>
<g font-size="14" fill="#131722" stroke="#131722" stroke-width="0.2">
<text x="72.1" y="715" textLength="67.6" lengthAdjust="spacingAndGlyphs">Pine Editor</text>
<text x="173.3" y="715" textLength="82.7" lengthAdjust="spacingAndGlyphs">Trading Panel</text>
</g>

<g font-size="12" fill="#131722" stroke="#131722" stroke-width="0.15" text-anchor="end">
<text x="1224.2" y="58.3" textLength="41.4" lengthAdjust="spacingAndGlyphs">130,000</text>
<text x="1224.2" y="88.7" textLength="41.4" lengthAdjust="spacingAndGlyphs">127,500</text>
<text x="1224.2" y="119.1" textLength="41.4" lengthAdjust="spacingAndGlyphs">125,000</text>
<text x="1224.2" y="149.4" textLength="41.4" lengthAdjust="spacingAndGlyphs">122,500</text>
<text x="1224.2" y="210.2" textLength="41.4" lengthAdjust="spacingAndGlyphs">117,500</text>
<text x="1224.2" y="331.7" textLength="41.4" lengthAdjust="spacingAndGlyphs">107,500</text>
<text x="1224.2" y="362.0" textLength="41.4" lengthAdjust="spacingAndGlyphs">105,000</text>
<text x="1224.2" y="392.4" textLength="41.4" lengthAdjust="spacingAndGlyphs">102,500</text>
<text x="1224.2" y="453.2" textLength="41.4" lengthAdjust="spacingAndGlyphs">97,500</text>
<text x="1224.2" y="483.5" textLength="41.4" lengthAdjust="spacingAndGlyphs">95,000</text>
<text x="1224.2" y="513.9" textLength="41.4" lengthAdjust="spacingAndGlyphs">92,500</text>
<text x="1224.2" y="544.3" textLength="41.4" lengthAdjust="spacingAndGlyphs">90,000</text>
<text x="1224.2" y="574.7" textLength="41.4" lengthAdjust="spacingAndGlyphs">87,500</text>
<text x="1224.2" y="605.0" textLength="41.4" lengthAdjust="spacingAndGlyphs">85,000</text>
</g>
<!-- price axis labels boxes -->
<g font-size="12" fill="#fff" stroke="#fff" stroke-width="0.55" text-anchor="middle">
<rect x="1174.2" y="168.2" width="55.5" height="16.3" rx="2" fill="#2962ff"/><text x="1202" y="180.6">120,000</text>
<rect x="1123.3" y="223" width="49.7" height="16.3" rx="2" fill="#1f8f7e"/><text x="1148.2" y="235.8" font-size="12" textLength="42" lengthAdjust="spacingAndGlyphs">BTCUSD</text>
<rect x="1174.2" y="223" width="59.5" height="30.3" rx="2" fill="#1f8f7e"/><text x="1203.2" y="235.8" textLength="41.8" lengthAdjust="spacingAndGlyphs">115,458</text><text x="1205.4" y="249.6" fill="#cdf0e6" stroke="#cdf0e6" textLength="46.5" lengthAdjust="spacingAndGlyphs">05:23:18</text>
<rect x="1174.2" y="254.5" width="55.5" height="15.7" rx="2" fill="#e5394b"/><text x="1202" y="266.6">113,462</text>
<rect x="1174.2" y="290.2" width="55.5" height="15.7" rx="2" fill="#2962ff"/><text x="1202" y="302.3">110,000</text>
<rect x="1174.2" y="310.2" width="55.5" height="16" rx="2" fill="#2962ff"/><text x="1202" y="322.4">108,316</text>
<rect x="1174.2" y="411.6" width="55.5" height="15.7" rx="2" fill="#2962ff"/><text x="1202" y="423.7">100,000</text>
<rect x="1173.9" y="587.4" width="32.1" height="16.7" rx="1" fill="#26a69a"/><text x="1190" y="600">973</text>
</g>

<!-- flags / events -->
<g>
<circle cx="1027.8" cy="607.2" r="8.9" fill="#fff" stroke="#7a40c8" stroke-width="1.4"/>
<path d="M1029.5 601.5L1025.8 607.8H1028.6L1027.4 612.8L1031.5 606.4H1028.8Z" fill="#7a40c8"/>
<path d="M1017.3 606.6L1018.5 609.9L1021.8 611.1L1018.5 612.3L1017.3 615.6L1016.1 612.3L1012.8 611.1L1016.1 609.9Z" fill="#7b4fe0"/>
<clipPath id="f3"><circle cx="1051.7" cy="607.2" r="8.0"/></clipPath>
<circle cx="1051.7" cy="607.2" r="9.6" fill="#fff" stroke="#dd4550" stroke-width="1.3"/>
<g clip-path="url(#f3)"><rect x="1042.1000000000001" y="597.6" width="19.2" height="19.2" fill="#fff"/>
<g fill="#e25a62"><rect x="1042.1000000000001" y="600.2" width="19.2" height="1.7"/><rect x="1042.1000000000001" y="603.6" width="19.2" height="1.7"/><rect x="1042.1000000000001" y="607.0" width="19.2" height="1.7"/><rect x="1042.1000000000001" y="610.4" width="19.2" height="1.7"/><rect x="1042.1000000000001" y="613.8000000000001" width="19.2" height="1.7"/></g>
<rect x="1042.1000000000001" y="597.6" width="10.1" height="10.0" fill="#3f7fe0"/></g><clipPath id="f2"><circle cx="1046" cy="607.2" r="8.0"/></clipPath>
<circle cx="1046" cy="607.2" r="9.6" fill="#fff" stroke="#dd4550" stroke-width="1.3"/>
<g clip-path="url(#f2)"><rect x="1036.4" y="597.6" width="19.2" height="19.2" fill="#fff"/>
<g fill="#e25a62"><rect x="1036.4" y="600.2" width="19.2" height="1.7"/><rect x="1036.4" y="603.6" width="19.2" height="1.7"/><rect x="1036.4" y="607.0" width="19.2" height="1.7"/><rect x="1036.4" y="610.4" width="19.2" height="1.7"/><rect x="1036.4" y="613.8000000000001" width="19.2" height="1.7"/></g>
<rect x="1036.4" y="597.6" width="10.1" height="10.0" fill="#3f7fe0"/></g><clipPath id="f1"><circle cx="1040" cy="607.2" r="8.0"/></clipPath>
<circle cx="1040" cy="607.2" r="9.6" fill="#fff" stroke="#dd4550" stroke-width="1.3"/>
<g clip-path="url(#f1)"><rect x="1030.4" y="597.6" width="19.2" height="19.2" fill="#fff"/>
<g fill="#e25a62"><rect x="1030.4" y="600.2" width="19.2" height="1.7"/><rect x="1030.4" y="603.6" width="19.2" height="1.7"/><rect x="1030.4" y="607.0" width="19.2" height="1.7"/><rect x="1030.4" y="610.4" width="19.2" height="1.7"/><rect x="1030.4" y="613.8000000000001" width="19.2" height="1.7"/></g>
<rect x="1030.4" y="597.6" width="10.1" height="10.0" fill="#3f7fe0"/></g>
</g>
<!-- window corners -->
<path d="M0 721.5Q0 729 7.5 729H0Z" fill="#3c0612"/>
<path d="M1288 721.5Q1288 729 1280.5 729H1288Z" fill="#3c0612"/>
</svg>
</body></html>
